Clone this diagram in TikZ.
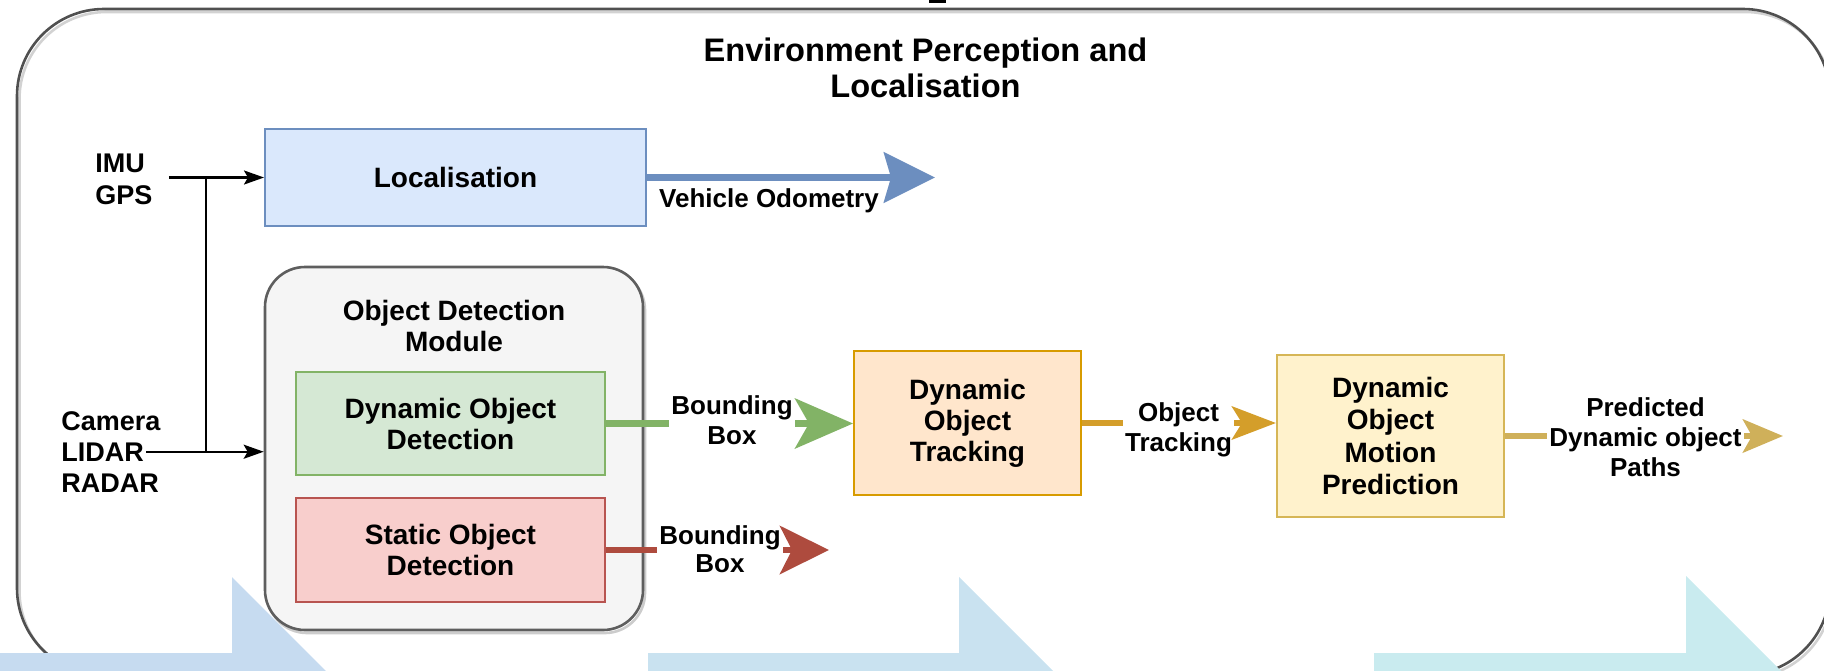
\documentclass[tikz,border=0pt]{standalone}
\usepackage{fontspec}
\setmainfont{Liberation Sans}
\usetikzlibrary{arrows.meta}

\definecolor{locfill}{HTML}{DAE8FC}
\definecolor{locline}{HTML}{6C8EBF}
\definecolor{modfill}{HTML}{F5F5F5}
\definecolor{modline}{HTML}{5E5E5E}
\definecolor{dynfill}{HTML}{D5E8D4}
\definecolor{dynline}{HTML}{82B366}
\definecolor{stafill}{HTML}{F8CECC}
\definecolor{staline}{HTML}{B85450}
\definecolor{staarrow}{HTML}{AE4B3E}
\definecolor{trkfill}{HTML}{FFE6CC}
\definecolor{trkline}{HTML}{D79B00}
\definecolor{trkarrow}{HTML}{D49E2A}
\definecolor{prdfill}{HTML}{FFF2CC}
\definecolor{prdline}{HTML}{D6B656}
\definecolor{prdarrow}{HTML}{CFB05A}
\definecolor{outerline}{HTML}{505050}
\definecolor{banda}{HTML}{C6DBF0}
\definecolor{bandb}{HTML}{C9E2F0}
\definecolor{bandc}{HTML}{C9EBEF}

\begin{document}
\begin{tikzpicture}[x=0.5pt,y=-0.5pt,
  blockbox/.style={draw, line width=1pt, align=center,
    font=\fontsize{14pt}{15.5pt}\selectfont\bfseries},
  titletxt/.style={align=center, inner sep=0pt,
    font=\fontsize{16.3pt}{18pt}\selectfont\bfseries},
  intxt/.style={align=left, inner sep=0pt,
    font=\fontsize{13.5pt}{16pt}\selectfont\bfseries},
  edgetxt/.style={align=center, inner sep=1pt,
    font=\fontsize{13pt}{15pt}\selectfont\bfseries},
  thinline/.style={line width=1.2pt, black},
  thinhead/.style={-{Stealth[length=10pt,width=7pt,inset=2pt]}},
  thickline/.style={line width=3.4pt},
]
\useasboundingbox (0,0) rectangle (1824,670);
\clip (0,0) rectangle (1824,670);

% enclosing frame with a soft shadow
\draw[gray!35, line width=1.3pt, rounded corners=43.5pt] (19.5,12) rectangle (1832.5,678);
\draw[outerline, line width=1.3pt, rounded corners=43.5pt] (17,9) rectangle (1830,675);
\fill[black] (929,0) rectangle (946,3);

\node[titletxt] (title) at (925.5,68.3) {Environment Perception and\\Localisation};

% sensor inputs
\node[intxt, anchor=west] (imu) at (95,179.4) {IMU\\GPS};
\node[intxt, anchor=base west, inner xsep=1pt] (cam) at (59,430) {Camera};
\node[intxt, anchor=base west, inner xsep=1pt] (lidar) at (59,461) {LIDAR};
\node[intxt, anchor=base west, inner xsep=1pt] (radar) at (59,492) {RADAR};
\coordinate (jx) at (206,0);

% localisation
\node[blockbox, fill=locfill, draw=locline, minimum width=190.5pt, minimum height=48.5pt]
  (loc) at (455.5,177.5) {Localisation};
\coordinate (odotip) at (935,177.5);
\draw[thickline, locline, -{Stealth[length=25.5pt,width=25pt,inset=3.5pt]}] (loc.east) -- (odotip);
\node[edgetxt] (odo) at (769,201) {Vehicle Odometry};

% object detection module
\draw[gray!40, line width=1.3pt, rounded corners=20pt] (267,270) rectangle (645,633);
\node[draw=modline, fill=modfill, line width=1.3pt, rounded corners=20pt,
  minimum width=189pt, minimum height=181.5pt] (module) at (454,448.5) {};
\node[blockbox, draw=none, inner sep=0pt] (modtitle) at (454,326) {Object Detection\\Module};
\node[blockbox, fill=dynfill, draw=dynline, minimum width=154.5pt, minimum height=51.5pt]
  (dyn) at (450.5,423.5) {Dynamic Object\\Detection};
\node[blockbox, fill=stafill, draw=staline, minimum width=154.5pt, minimum height=52pt]
  (sta) at (450.5,550) {Static Object\\Detection};

% tracking and prediction
\node[blockbox, fill=trkfill, draw=trkline, minimum width=113.5pt, minimum height=72pt]
  (trk) at (967.5,423) {Dynamic\\Object\\Tracking};
\node[blockbox, fill=prdfill, draw=prdline, minimum width=113.5pt, minimum height=81pt,
  font=\fontsize{14pt}{16.2pt}\selectfont\bfseries]
  (prd) at (1390.5,436) {Dynamic\\Object\\Motion\\Prediction};

% input connectors
\draw[thinline, thinhead] ([xshift=8pt]imu.east |- loc.west) -- (loc.west);
\draw[thinline] (jx |- loc.west) -- (jx |- lidar.east);
\draw[thinline, thinhead] (lidar.east) -- (lidar.east -| module.west);

% edge labels
\node[edgetxt] (dynlab) at (732,420.5) {Bounding\\Box};
\node[edgetxt, font=\fontsize{13pt}{14pt}\selectfont\bfseries] (stalab) at (720,549.5) {Bounding\\Box};
\node[edgetxt] (trklab) at (1178.5,430) {Object\\Tracking};
\node[edgetxt, font=\fontsize{13pt}{15pt}\selectfont\bfseries] (prdlab) at (1645.5,437) {Predicted\\Dynamic object\\Paths};
\coordinate (statip) at (829,550);
\coordinate (outtip) at (1783,436);

% bounding box outputs
\draw[thickline, dynline] (dyn.east) -- (dyn.east -| dynlab.west);
\draw[thickline, dynline, -{Stealth[length=29pt,width=25pt,inset=7pt]}]
  (dynlab.east |- dyn.east) -- (trk.west |- dyn.east);
\draw[thickline, staarrow] (sta.east) -- (sta.east -| stalab.west);
\draw[thickline, staarrow, -{Stealth[length=24.5pt,width=24pt,inset=6pt]}]
  (stalab.east |- sta.east) -- (statip);

% tracking output
\draw[thickline, trkarrow] (trk.east) -- (trk.east -| trklab.west);
\draw[thickline, trkarrow, -{Stealth[length=22pt,width=16.5pt,inset=5pt]}]
  (trklab.east |- trk.east) -- (prd.west |- trk.east);

% prediction output
\draw[thickline, prdarrow] (prd.east) -- (prd.east -| prdlab.west);
\draw[thickline, prdarrow, -{Stealth[length=20pt,width=16.5pt,inset=4.5pt]}]
  (prdlab.east |- prd.east) -- (outtip);

% large pale arrows along the lower edge
\fill[banda] (-5,653) -- (232,653) -- (232,577) -- (362,707) -- (-5,707) -- cycle;
\fill[bandb] (648,653) -- (959,653) -- (959,577) -- (1089,707) -- (648,707) -- cycle;
\fill[bandc] (1374,653) -- (1686,653) -- (1686,576) -- (1816,706) -- (1374,706) -- cycle;
\end{tikzpicture}
\end{document}
